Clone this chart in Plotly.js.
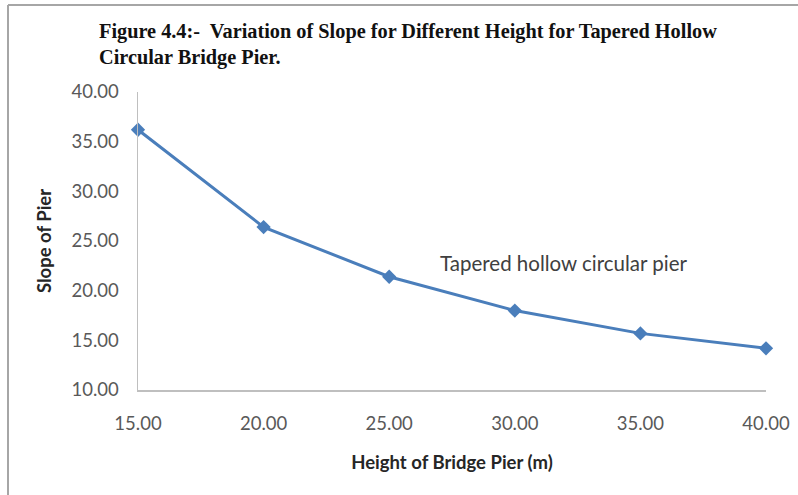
<!DOCTYPE html>
<html>
<head>
<meta charset="utf-8">
<script src="https://cdn.plot.ly/plotly-3.0.1.min.js"></script>
<style>
  html, body { margin: 0; padding: 0; background: #fff; }
  #chart { width: 798px; height: 495px; }
</style>
</head>
<body>
<div id="chart"></div>
<script>
const heights = [15, 20, 25, 30, 35, 40];
const slopes = [36.2, 26.4, 21.4, 18.0, 15.7, 14.2];
const xTicks = [15, 20, 25, 30, 35, 40];
const xTickLabels = ["15.00", "20.00", "25.00", "30.00", "35.00", "40.00"];
const yTicks = [10, 15, 20, 25, 30, 35, 40];
const yTickLabels = ["10.00", "15.00", "20.00", "25.00", "30.00", "35.00", "40.00"];
const seriesName = "Tapered hollow circular pier";
const titleText = "Figure 4.4:-  Variation of Slope for Different Height for Tapered Hollow<br>Circular Bridge Pier.";
const xTitle = "Height of Bridge Pier (m)";
const yTitle = "Slope of Pier";

const trace = {
  x: heights,
  y: slopes,
  type: "scatter",
  mode: "lines+markers",
  name: seriesName,
  line: { color: "#4a7ebb", width: 3 },
  marker: { symbol: "diamond", size: 11, color: "#4a7ebb" },
  cliponaxis: false,
  showlegend: false
};

const tickFont = { family: "Lato, 'DejaVu Sans', sans-serif", size: 18.5, color: "#595959" };
const axTitleFont = { family: "Lato, 'DejaVu Sans', sans-serif", size: 18.5, color: "#262626", weight: "bold" };

const layout = {
  width: 798,
  height: 495,
  paper_bgcolor: "#ffffff",
  plot_bgcolor: "#ffffff",
  margin: { l: 138, r: 32, t: 92, b: 105 },
  title: {
    text: titleText,
    font: { family: "'Liberation Serif', 'Times New Roman', serif", size: 20.3, color: "#111111", weight: "bold" },
    xref: "container", yref: "container",
    x: 99 / 798, xanchor: "left",
    y: 1 - 38 / 495, yanchor: "top"
  },
  xaxis: {
    range: [15, 40],
    tickmode: "array",
    tickvals: xTicks,
    ticktext: xTickLabels,
    showgrid: false,
    zeroline: false,
    showline: true,
    linecolor: "#bfbfbf",
    linewidth: 1.5,
    ticks: "",
    tickfont: tickFont,
    ticklabelstandoff: 16,
    title: { text: xTitle, font: axTitleFont, standoff: 23 }
  },
  yaxis: {
    range: [10, 40],
    tickmode: "array",
    tickvals: yTicks,
    ticktext: yTickLabels,
    showgrid: false,
    zeroline: false,
    showline: true,
    linecolor: "#bfbfbf",
    linewidth: 1.5,
    ticks: "",
    tickfont: tickFont,
    ticklabelstandoff: 14,
    title: { text: yTitle, font: axTitleFont, standoff: 15 }
  },
  annotations: [{
    text: seriesName,
    xref: "paper", yref: "paper",
    x: 0.678, y: 0.426,
    xanchor: "center", yanchor: "middle",
    showarrow: false,
    font: { family: "Lato, 'DejaVu Sans', sans-serif", size: 20.5, color: "#404040" }
  }],
  shapes: [
    { type: "line", xref: "paper", yref: "paper", x0: -130/628, x1: 660/628, y0: 1 + 87/298, y1: 1 + 87/298,
      line: { color: "#a6a6a6", width: 2 } },
    { type: "line", xref: "paper", yref: "paper", x0: -130/628, x1: -130/628, y0: -105/298, y1: 1 + 87/298,
      line: { color: "#a6a6a6", width: 2 } }
  ]
};

Plotly.newPlot("chart", [trace], layout, { displayModeBar: false, staticPlot: true });
</script>
</body>
</html>
